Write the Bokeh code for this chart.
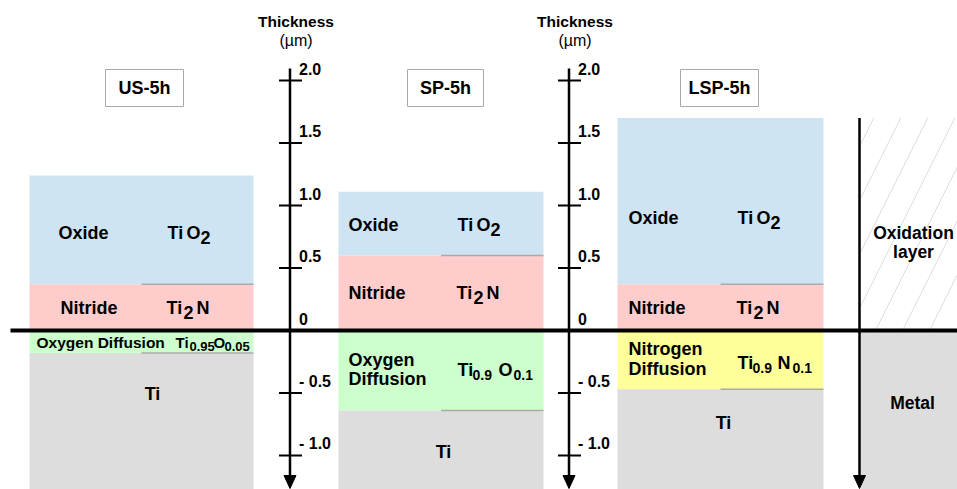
from bokeh.plotting import figure
from bokeh.models import Range1d
from bokeh.core.properties import value
from bokeh.embed import file_html
from bokeh.resources import INLINE

# ---------------- data (thickness in micrometres) ----------------
samples = ["US-5h", "SP-5h", "LSP-5h"]
oxide_top = [1.24, 1.11, 1.70]          # top of TiO2 layer
nitride_top = [0.37, 0.60, 0.37]        # TiO2 / Ti2N boundary
interface = [0.0, 0.0, 0.0]             # original surface
diffusion_bottom = [-0.18, -0.64, -0.47]  # bottom of diffusion zone
diffusion_names = [["Oxygen Diffusion"], ["Oxygen", "Diffusion"], ["Nitrogen", "Diffusion"]]
tick_values = [2.0, 1.5, 1.0, 0.5, 0.0, -0.5, -1.0]
tick_labels = ["2.0", "1.5", "1.0", "0.5", "0", "- 0.5", "- 1.0"]

# ---------------- layout (reference pixel frame) ----------------
W, H = 957, 489
OX, OY = 0, 0                    # page position of the figure
Y0, PX = 330.0, 125.0            # pixel row of 0 µm, pixels per µm
def T(ypx):
    return (Y0 - ypx) / PX
Y_TOP, Y_BOT = T(OY), T(OY + H)
X_RIGHT = OX + W
col_left = [29, 338, 617]
col_right = [253, 543, 823]
axis_x = [289.5, 568.5]
box_l = [105, 407, 680]
box_r = [183, 483, 758]
FONT = value("Liberation Sans")

OXIDE = "#cfe4f2"
NITRIDE = "#ffcccc"
DIFF = ["#ccffcc", "#ccffcc", "#ffff99"]
TI = "#dddddd"

p = figure(width=W, height=H, x_range=Range1d(OX, X_RIGHT), y_range=Range1d(Y_BOT, Y_TOP),
           output_backend="svg", toolbar_location=None, min_border=0,
           x_axis_type=None, y_axis_type=None)
p.grid.visible = False
p.outline_line_color = None
p.background_fill_color = "white"
p.border_fill_color = "white"

# layers
p.quad(left=col_left, right=col_right, top=oxide_top, bottom=nitride_top, fill_color=OXIDE, line_color=None)
p.quad(left=col_left, right=col_right, top=nitride_top, bottom=interface, fill_color=NITRIDE, line_color=None)
p.quad(left=col_left, right=col_right, top=interface, bottom=diffusion_bottom, fill_color=DIFF, line_color=None)
p.quad(left=col_left, right=col_right, top=diffusion_bottom, bottom=[Y_BOT - 1] * 3, fill_color=TI, line_color=None)

# thin grey phase-boundary marks on the right half of each column
mids = [(l + r) / 2 for l, r in zip(col_left, col_right)]
p.segment(x0=mids + mids, x1=col_right + col_right, y0=nitride_top + diffusion_bottom,
          y1=nitride_top + diffusion_bottom, line_color="#aaaaaa", line_width=1.5)

# right schematic column
p.quad(left=[860], right=[X_RIGHT + 2], top=[oxide_top[2]], bottom=[0.0], fill_color="white",
       line_color=None, hatch_pattern="/", hatch_color="#dcdcdc", hatch_scale=54, hatch_weight=1)
p.quad(left=[860], right=[X_RIGHT + 2], top=[0.0], bottom=[Y_BOT - 1], fill_color=TI, line_color=None)

# surface line
p.segment(x0=[10], x1=[X_RIGHT + 2], y0=[0.0], y1=[0.0], line_color="black", line_width=4)

# thickness axes
arrow_tip, arrow_base, half_w = T(488), T(475), 6
for ax in axis_x:
    p.segment(x0=[ax], x1=[ax], y0=[T(68)], y1=[arrow_base], line_color="black", line_width=2.5)
    p.patch(x=[ax - half_w, ax + half_w, ax], y=[arrow_base, arrow_base, arrow_tip], fill_color="black", line_color="black")
    tv = [v for v in tick_values if v != 0]
    p.segment(x0=[ax - 11] * len(tv), x1=[ax + 12] * len(tv), y0=tv, y1=tv, line_color="black", line_width=2)
    p.text(x=[ax + 9] * len(tick_values), y=[v + 12 / PX for v in tick_values], text=tick_labels,
           text_font=FONT, text_font_style="bold", text_font_size="16px",
           text_align="left", text_baseline="middle", text_color="black")
    p.text(x=[ax + 6], y=[T(21)], text=["Thickness"], text_font=FONT, text_font_style="bold",
           text_font_size="15.5px", text_align="center", text_baseline="middle")
    p.text(x=[ax + 6], y=[T(40)], text=["(\u00b5m)"], text_font=FONT,
           text_font_size="16px", text_align="center", text_baseline="middle")

# metal / oxidation arrow
mx = 859
p.segment(x0=[mx], x1=[mx], y0=[oxide_top[2]], y1=[arrow_base], line_color="black", line_width=2.5)
p.patch(x=[mx - half_w, mx + half_w, mx], y=[arrow_base, arrow_base, arrow_tip], fill_color="black", line_color="black")
p.text(x=[913, 913, 912], y=[T(232), T(251), T(402)], text=["Oxidation", "layer", "Metal"],
       text_font=FONT, text_font_style="bold", text_font_size="17.5px", text_align="center", text_baseline="middle")

# sample title boxes
p.quad(left=box_l, right=box_r, top=[T(69)] * 3, bottom=[T(106)] * 3, fill_color="white", line_color="#aaaaaa", line_width=1)
p.text(x=[(l + r) / 2 for l, r in zip(box_l, box_r)], y=[T(87.5)] * 3, text=samples,
       text_font=FONT, text_font_style="bold", text_font_size="18px", text_align="center", text_baseline="middle")

def txt(x, ypx, s, size="17px", align="left"):
    p.text(x=[x], y=[T(ypx)], text=[s], text_font=FONT, text_font_style="bold",
           text_font_size=size, text_align=align, text_baseline="middle", text_color="black")

# layer names
oxide_y = [232, 224, 217]
nitride_y = [307, 292, 307]
name_x = [58, 348, 628]
for i in range(3):
    txt(name_x[i], oxide_y[i], "Oxide", size="18px")
    txt(name_x[i] + 2 if i == 0 else name_x[i], nitride_y[i], "Nitride", size="18px")
txt(36, 342, diffusion_names[0][0], size="15.5px")
txt(348, 359, diffusion_names[1][0], size="18px"); txt(348, 378, diffusion_names[1][1], size="18px")
txt(628, 348, diffusion_names[2][0], size="18px"); txt(628, 368, diffusion_names[2][1], size="18px")
for cx, ypx in zip([152, 443, 723], [393, 451, 422]):
    txt(cx, ypx, "Ti", size="18px", align="center")

# phase formulae (with subscripts)
tix = [167, 457, 737]
for i in range(3):
    x = tix[i]
    txt(x, oxide_y[i], "Ti", size="18px"); txt(x + 19, oxide_y[i], "O", size="18px"); txt(x + 33, oxide_y[i] + 5, "2", size="18px")
    x = tix[i] - 1
    txt(x, nitride_y[i], "Ti", size="18px"); txt(x + 17, nitride_y[i] + 5, "2", size="18px"); txt(x + 30, nitride_y[i], "N", size="18px")
# US: Ti0.95 O0.05
txt(175, 342, "Ti", size="15px"); txt(189, 346, "0.95", size="13px")
txt(213, 342, "O", size="15px"); txt(224, 346, "0.05", size="13px")
# SP: Ti0.9 O0.1
txt(457, 369, "Ti", size="18px"); txt(472, 374, "0.9", size="14px"); txt(498, 369, "O", size="18px"); txt(513, 374, "0.1", size="14px")
# LSP: Ti0.9 N0.1
txt(737, 362, "Ti", size="18px"); txt(752, 367, "0.9", size="14px"); txt(777, 362, "N", size="18px"); txt(792, 367, "0.1", size="14px")

open("out.html", "w").write(file_html(p, INLINE))
